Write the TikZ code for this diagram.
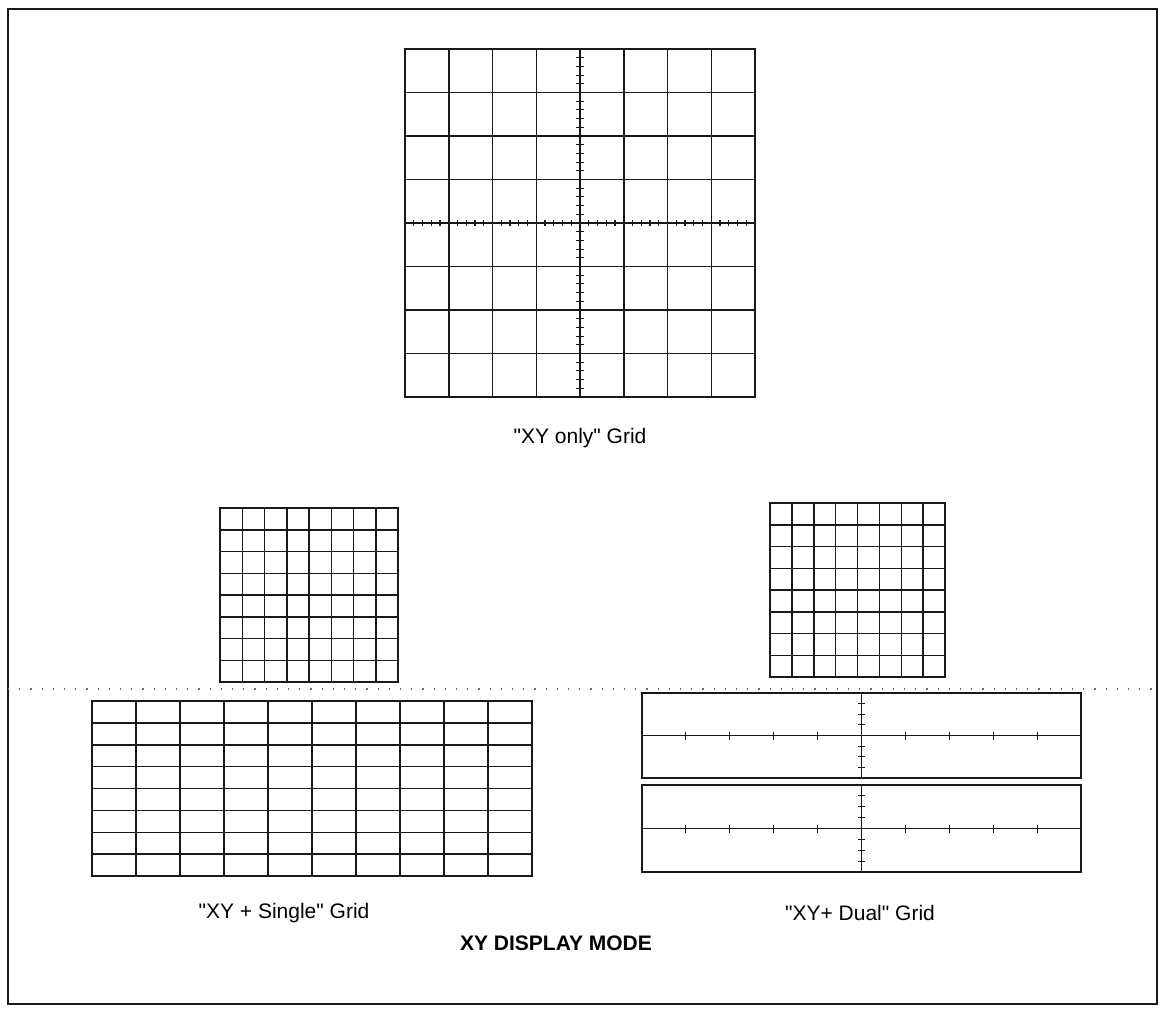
\documentclass[tikz,border=0pt]{standalone}
\usepackage{fontspec}
\newfontfamily\capfont{Liberation Sans}
\usetikzlibrary{calc}

\begin{document}
\begin{tikzpicture}[
    x=0.5pt,
    y=-0.5pt,
    font=\capfont\fontsize{10.5}{12}\selectfont,
    frame/.style={draw=black!90, line width=0.9pt},
    gridline/.style={draw=black!90, line width=0.75pt},
    tickmark/.style={draw=black!90, line width=0.55pt},
    sep/.style={draw=black!60, line width=0.6pt, dash pattern=on 0.6pt off 5pt},
    caption/.style={inner sep=0pt, anchor=center},
    heading/.style={caption, font=\capfont\fontsize{10.5}{12}\selectfont\bfseries}
]
\useasboundingbox (0,0) rectangle (1166,1009);

% ============================================================
% RAMKA
% ============================================================
\draw[frame] (8,9) rectangle (1157,1004);

% ============================================================
% "XY only": 8 x 8 z podzialka na osiach
% ============================================================
\draw[gridline] (405,49) rectangle (755,397);
\foreach \i in {1,...,7} {
    \draw[gridline] ({405+\i*43.75},49) -- ({405+\i*43.75},397);
    \draw[gridline] (405,{49+\i*43.5}) -- (755,{49+\i*43.5});
}
\foreach \k in {1,...,39} {
    \draw[tickmark] ({405+\k*8.75},220) -- ({405+\k*8.75},226);
    \draw[tickmark] (576,{49+\k*8.7}) -- (584,{49+\k*8.7});
}

\node[caption] (xyonlycap) at (580,438) {"XY only" Grid};

% ============================================================
% GORNE MALE SIATKI XY
% ============================================================
\draw[gridline] (220,508) rectangle (398,682);
\foreach \i in {1,...,7} {
    \draw[gridline] ({220+\i*22.25},508) -- ({220+\i*22.25},682);
    \draw[gridline] (220,{508+\i*21.75}) -- (398,{508+\i*21.75});
}

\draw[gridline] (770,503) rectangle (945,677);
\foreach \i in {1,...,7} {
    \draw[gridline] ({770+\i*21.875},503) -- ({770+\i*21.875},677);
    \draw[gridline] (770,{503+\i*21.75}) -- (945,{503+\i*21.75});
}

% linia podzialu ekranu
\draw[sep] (8,689) -- (1157,689);

% ============================================================
% "XY + Single": 10 x 8
% ============================================================
\draw[gridline] (92,701) rectangle (532,876);
\foreach \i in {1,...,9} {
    \draw[gridline] ({92+\i*44},701) -- ({92+\i*44},876);
}
\foreach \j in {1,...,7} {
    \draw[gridline] (92,{701+\j*21.875}) -- (532,{701+\j*21.875});
}

\node[caption] (singlecap) at (284,913) {"XY + Single" Grid};

% ============================================================
% "XY+ Dual": dwa pola z osiami
% ============================================================
\foreach \top/\bot in {693/778, 785/872} {
    \draw[gridline] (642,\top) rectangle (1081,\bot);
    \draw[gridline] (642,{(\top+\bot)/2}) -- (1081,{(\top+\bot)/2});
    \draw[gridline] (861.5,\top) -- (861.5,\bot);
    \foreach \k in {1,...,9} {
        \draw[tickmark] ({642+\k*43.9},{(\top+\bot)/2-4}) -- ({642+\k*43.9},{(\top+\bot)/2+4});
    }
    \foreach \j in {1,2,3,5,6,7} {
        \draw[tickmark] (858,{\top+\j*(\bot-\top)/8}) -- (865,{\top+\j*(\bot-\top)/8});
    }
}

\node[caption] (dualcap) at (860,913) {"XY+ Dual" Grid};

% ============================================================
% TYTUL
% ============================================================
\node[heading] (title) at (556,943) {XY DISPLAY MODE};

\end{tikzpicture}
\end{document}
